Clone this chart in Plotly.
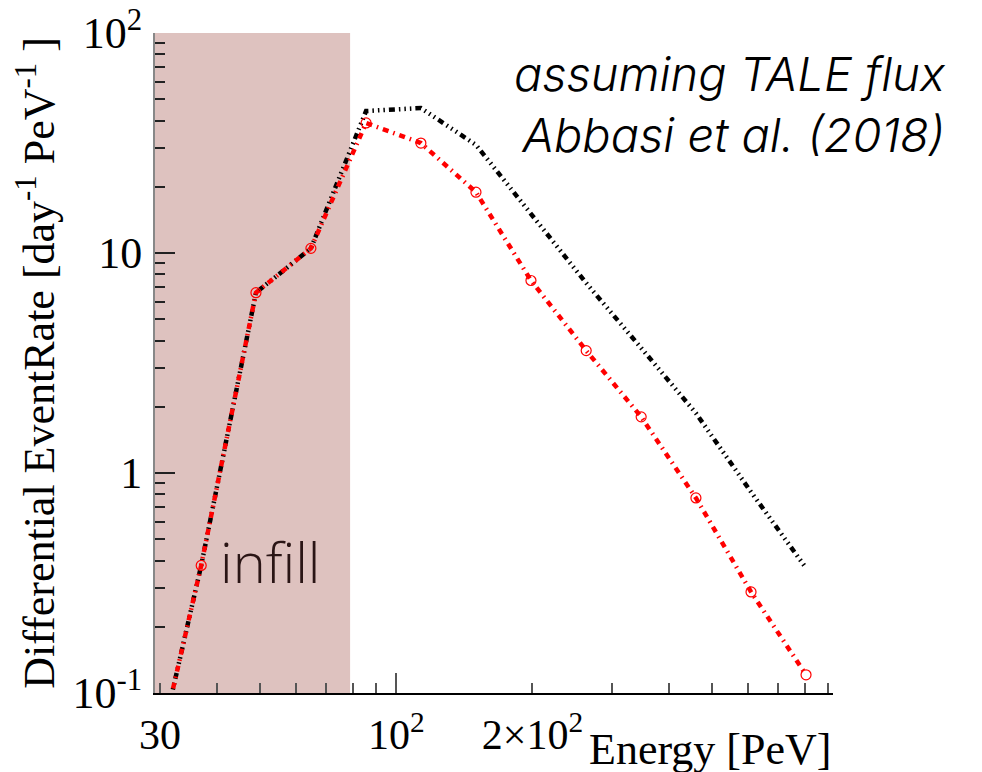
import plotly.graph_objects as go

# ---- data ----
energy_pev = [27.9, 37.0, 48.9, 64.7, 85.7, 113.3, 150.0, 198.5, 263.0, 348.0, 460.0, 609.0, 806.0]
rate_red = [0.030, 0.38, 6.6, 10.5, 39.0, 31.6, 18.9, 7.5, 3.6, 1.80, 0.77, 0.288, 0.121]
rate_black = [0.030, 0.38, 6.6, 10.5, 44.2, 45.6, 31.0, 15.0, 7.3, 3.7, 1.87, 0.82, 0.37]
infill_max = 79.0

x_range_log = [1.466, 2.966]
y_range_log = [-1, 2]

x_tick_vals = [30, 100, 200]
x_tick_text = ["30", "10<sup>2</sup>", "2×10<sup>2</sup>"]
x_minor_vals = [40, 50, 60, 70, 80, 90, 300, 400, 500, 600, 700, 800, 900]
y_tick_vals = [0.1, 1, 10, 100]
y_tick_text = ["10<sup>-1</sup>", "1", "10", "10<sup>2</sup>"]
y_minor_vals = [m * d for d in (0.1, 1, 10) for m in range(2, 10)]

serif = "Liberation Serif, Times New Roman, serif"

fig = go.Figure()

fig.add_shape(type="rect", xref="x", yref="y domain",
              x0=10 ** x_range_log[0], x1=infill_max, y0=0, y1=1,
              fillcolor="#dec2bf", line=dict(width=0), layer="below")

fig.add_trace(go.Scatter(
    x=energy_pev, y=rate_black, mode="lines",
    line=dict(color="black", width=4.5,
              dash="6px,4px,1.5px,4px,1.5px,4px,1.5px,4px"),
    showlegend=False))

fig.add_trace(go.Scatter(
    x=energy_pev, y=rate_red, mode="lines+markers",
    line=dict(color="#ff0000", width=4.5, dash="6px,5px,1.5px,5px"),
    marker=dict(symbol="circle-open", size=10, color="#ff0000",
                line=dict(width=1.2, color="#ff0000")),
    showlegend=False))

# extra axis for the long major tick at 100
fig.add_trace(go.Scatter(x=[100], y=[1], xaxis="x2", mode="markers",
                         marker=dict(opacity=0), showlegend=False, hoverinfo="skip"))

fig.update_layout(
    width=982, height=772,
    margin=dict(l=147, r=157, t=25, b=87),
    paper_bgcolor="white", plot_bgcolor="white",
    xaxis=dict(type="log", range=x_range_log, showgrid=False, zeroline=False,
               automargin=False, ticklabeloverflow="allow",
               showline=True, linecolor="black", linewidth=2,
               tickmode="array", tickvals=x_tick_vals, ticktext=x_tick_text,
               ticks="inside", ticklen=10, tickwidth=2, tickcolor="#555",
               minor=dict(tickmode="array", tickvals=x_minor_vals, ticks="inside",
                          ticklen=10, tickwidth=2, tickcolor="#555", showgrid=False),
               tickfont=dict(family=serif, size=42, color="black"),
               ticklabelstandoff=4),
    xaxis2=dict(type="log", range=x_range_log, overlaying="x", side="bottom",
                automargin=False,
                showgrid=False, zeroline=False, showline=False,
                tickmode="array", tickvals=[100], ticks="inside", ticklen=20,
                tickwidth=2, tickcolor="#555", showticklabels=False),
    yaxis=dict(type="log", range=y_range_log, showgrid=False, zeroline=False,
               automargin=False, ticklabeloverflow="allow",
               showline=True, linecolor="#888", linewidth=2,
               tickmode="array", tickvals=y_tick_vals, ticktext=y_tick_text,
               ticks="inside", ticklen=20, tickwidth=1.5, tickcolor="#222",
               minor=dict(tickmode="array", tickvals=y_minor_vals, ticks="inside",
                          ticklen=10, tickwidth=1.5, tickcolor="#222", showgrid=False),
               tickfont=dict(family=serif, size=44, color="black"),
               ticklabelstandoff=2,
               title=dict(text="Differential EventRate [day<sup>-1</sup> PeV<sup>-1</sup> ]",
                          font=dict(family=serif, size=44, color="black"),
                          standoff=4)),
)

fig.add_annotation(text="<i>assuming TALE flux</i><br><i>Abbasi et al. (2018)</i>",
                   xref="paper", yref="paper", x=1.17, y=0.985,
                   xanchor="right", yanchor="top", align="right", showarrow=False,
                   font=dict(family="Inter", size=47, color="black", weight=300))

fig.add_annotation(text="infill", xref="paper", yref="paper", x=0.093, y=0.2,
                   xanchor="left", yanchor="middle", showarrow=False,
                   font=dict(family="Open Sans", size=56, color="#2a1515", weight=300))

fig.add_annotation(text="Energy [PeV]", xref="paper", yref="paper", x=1.0, y=-0.085,
                   xanchor="right", yanchor="middle", showarrow=False,
                   font=dict(family=serif, size=44, color="black"))

fig.write_html("out.html")
